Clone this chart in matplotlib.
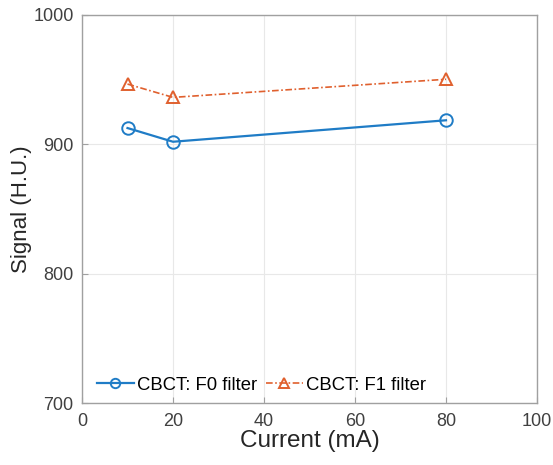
import matplotlib
matplotlib.use('Agg')
import matplotlib.pyplot as plt

plt.rcParams['font.family'] = ['Liberation Sans', 'DejaVu Sans']

# tube current settings (mA) and mean signal per filter
current = [10, 20, 80]
signal_f0 = [912.6, 902.0, 918.6]
signal_f1 = [946.6, 936.3, 950.3]

labels = ['CBCT: F0 filter', 'CBCT: F1 filter']
x_ticks = [0, 20, 40, 60, 80, 100]
y_ticks = [700, 800, 900, 1000]

fig = plt.figure(figsize=(5.53, 4.65), dpi=100)
ax = fig.add_axes([82 / 553, 1 - 403 / 465, (537 - 82) / 553, (403 - 15) / 465])

ax.plot(current, signal_f0, color='#1f7cc6', linewidth=1.6, marker='o',
        markersize=9, markerfacecolor='none', markeredgewidth=1.4, label=labels[0])
ax.plot(current, signal_f1, color='#e0602e', linewidth=1.2,
        dashes=(4, 1.5, 1, 1.5), marker='^', markersize=9,
        markerfacecolor='none', markeredgewidth=1.4, label=labels[1])

ax.set_xlim(0, 100)
ax.set_ylim(700, 1000)
ax.set_xticks(x_ticks)
ax.set_yticks(y_ticks)
ax.grid(True, color='#e8e8e8', linewidth=0.8)
ax.set_axisbelow(True)

for sp in ax.spines.values():
    sp.set_color('#a0a0a0')
    sp.set_linewidth(1.0)
ax.tick_params(direction='in', length=4, color='#a0a0a0', labelcolor='#404040',
               labelsize=13)
ax.tick_params(axis='x', pad=7)
ax.tick_params(axis='y', pad=6)

ax.set_xlabel('Current (mA)', fontsize=17.5, color='#262626', labelpad=0)
ax.set_ylabel('Signal (H.U.)', fontsize=16, color='#262626', labelpad=1)

ax.legend(loc='lower left', ncol=2, frameon=False, fontsize=13.3,
          handlelength=2.0, handletextpad=0.2, columnspacing=0.45,
          markerscale=0.75, borderaxespad=0.0,
          bbox_to_anchor=(0.016, 0.005))

fig.savefig('out.png', dpi=100)
